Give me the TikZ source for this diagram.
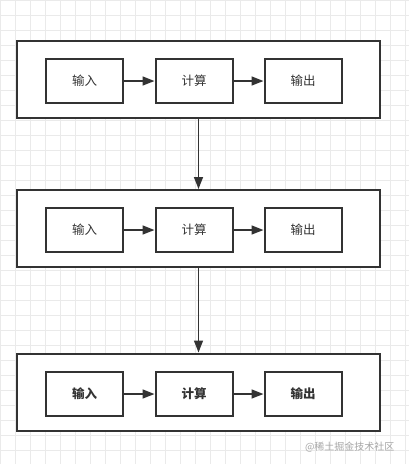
\documentclass[tikz,border=0pt]{standalone}
\usepackage{fontspec}
\newfontfamily\cjk{Noto Sans CJK SC}
\usetikzlibrary{arrows.meta,positioning}
\definecolor{linie}{HTML}{333333}
\definecolor{gitter}{HTML}{EAEAEA}
\tikzstyle{rahmen} = [draw=linie, line width=2pt, fill=white, minimum width=363pt, minimum height=77pt, inner sep=0pt]
\tikzstyle{kasten} = [draw=linie, line width=2pt, fill=white, minimum width=77pt, minimum height=44pt, inner sep=0pt, font=\cjk\fontsize{12.5}{14}\selectfont, text=linie]
\tikzstyle{pfeil} = [draw=linie, line width=1.6pt, -{Triangle[length=12pt,width=9pt]}]

\begin{document}
\begin{tikzpicture}[x=1pt,y=-1pt]
	\useasboundingbox (0,0) rectangle (409,464);
	\fill[white] (0,0) rectangle (409,464);

	% Hintergrundgitter
	\foreach \x in {0,15,...,405} \draw[gitter, line width=0.8pt] (\x,0) -- (\x,464);
	\foreach \y in {0,15,...,460} \draw[gitter, line width=0.8pt] (0,\y) -- (409,\y);

	% Zeilen
	\foreach \r/\yo/\yi/\st in {1/79.5/81/, 2/228.5/230/, 3/392/394/\bfseries} {
		\node[rahmen] (r\r) at (198.5,\yo) {};
		\node[kasten] (ein\r) at (84.5,\yi) {\st 输入};
		\node[kasten] (rech\r) at (194,\yi) {\st 计算};
		\node[kasten] (aus\r) at (303,\yi) {\st 输出};
		\draw[pfeil] (ein\r) -- (rech\r);
		\draw[pfeil] (rech\r) -- (aus\r);
	}

	% Verbindungen
	\draw[pfeil] (r1.south) -- (r2.north);
	\draw[pfeil] (r2.south) -- (r3.north);

	% Wasserzeichen
	\node[font=\cjk\fontsize{10}{12}\selectfont, text=black!35, anchor=east] (wz) at (398,447) {@稀土掘金技术社区};
\end{tikzpicture}
\end{document}
